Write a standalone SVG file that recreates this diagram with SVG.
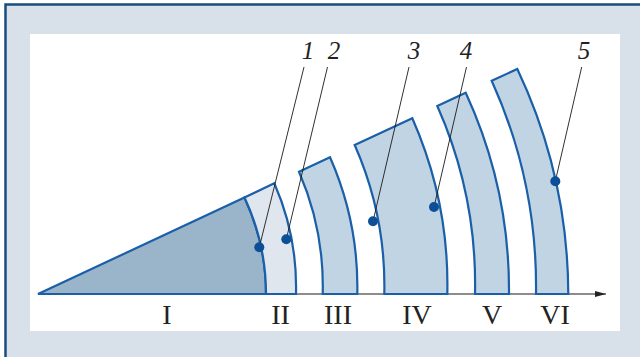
<svg xmlns="http://www.w3.org/2000/svg" width="640" height="357" viewBox="0 0 640 357">
<defs>
<style>
.piece{stroke:#1a5fa8;stroke-width:2.2;stroke-linejoin:miter}
.p1{fill:#9ab4ca}
.p2{fill:#dfe6ee}
.p3{fill:#c0d4e4}
.dot{fill:#0c4f96}
.lead{stroke:#1a1a1a;stroke-width:0.9;fill:none}
.num{font-family:"Liberation Serif",serif;font-style:italic;font-size:25px;fill:#222;text-anchor:middle}
.rom{font-family:"Liberation Serif",serif;font-size:28px;fill:#222;text-anchor:middle}
</style>
<marker id="arr" markerWidth="12" markerHeight="8" refX="11" refY="4" orient="auto" markerUnits="userSpaceOnUse">
<path d="M0,1 L11,4 L0,7 Z" fill="#222"/>
</marker>
</defs>
<rect x="5.5" y="4.5" width="650" height="370" fill="#d8e1ea" stroke="#1b4c7e" stroke-width="2.5"/>
<rect x="30" y="34" width="590" height="297" fill="#ffffff"/>
<g id="connectors">
<line x1="38" y1="294" x2="606" y2="294" stroke="#666" stroke-width="1.5" marker-end="url(#arr)"/>
</g>
<g id="piece-I"><path class="piece p1" d="M38,294 L244.5,197.5 A228,228 0 0,1 266,294 Z"/></g>
<g id="piece-II"><path class="piece p2" d="M244.5,197.5 L274.3,183.3 A259,259 0 0,1 296,294 L266,294 A228,228 0 0,0 244.5,197.5 Z"/></g>
<g id="piece-III"><path class="piece p3" d="M299,171.7 L330,157.3 A322,322 0 0,1 357.3,294 L322.7,294 A287,287 0 0,0 299,171.7 Z"/></g>
<g id="piece-IV"><path class="piece p3" d="M354.7,145 L412.3,118.3 A412,412 0 0,1 447.3,294 L384.3,294 A349,349 0 0,0 354.7,145 Z"/></g>
<g id="piece-V"><path class="piece p3" d="M437.3,106 L465.7,92.7 A472,472 0 0,1 509,294 L475,294 A439,439 0 0,0 437.3,106 Z"/></g>
<g id="piece-VI"><path class="piece p3" d="M491.7,80.7 L517.3,69 A530,530 0 0,1 568.3,294 L536,294 A500,500 0 0,0 491.7,80.7 Z"/></g>
<g id="leaders">
<line class="lead" x1="259.3" y1="247.3" x2="304" y2="67"/>
<line class="lead" x1="286.3" y1="239.3" x2="327.5" y2="67"/>
<line class="lead" x1="373" y1="221.3" x2="409" y2="67"/>
<line class="lead" x1="434" y1="207" x2="466.5" y2="67"/>
<line class="lead" x1="555.3" y1="181.3" x2="581.7" y2="67"/>
</g>
<g id="dots">
<circle class="dot" cx="259.3" cy="247.3" r="5"/>
<circle class="dot" cx="286.3" cy="239.3" r="5"/>
<circle class="dot" cx="373" cy="221.3" r="5"/>
<circle class="dot" cx="434" cy="207" r="5"/>
<circle class="dot" cx="555.3" cy="181.3" r="5"/>
</g>
<g id="num-labels">
<text class="num" x="308" y="58.5">1</text>
<text class="num" x="334" y="58.5">2</text>
<text class="num" x="414" y="58.5">3</text>
<text class="num" x="466" y="58.5">4</text>
<text class="num" x="584" y="58.5">5</text>
</g>
<g id="roman-labels">
<text class="rom" x="167" y="324">I</text>
<text class="rom" x="280.5" y="324">II</text>
<text class="rom" x="338" y="324">III</text>
<text class="rom" x="417" y="324">IV</text>
<text class="rom" x="492" y="324">V</text>
<text class="rom" x="555" y="324">VI</text>
</g>
</svg>
